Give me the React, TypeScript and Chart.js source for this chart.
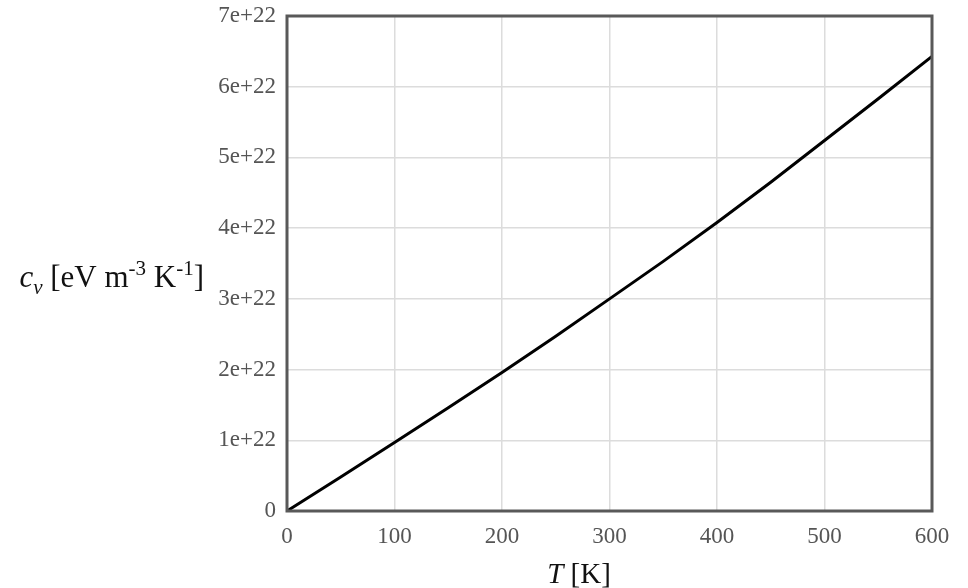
import React, { useEffect, useRef } from "react";
import { Chart, registerables } from "chart.js";

Chart.register(...registerables);

const temperatures = [0, 50, 100, 150, 200, 250, 300, 350, 400, 450, 500, 550, 600];
const heatCapacity = [0, 0.48e22, 0.97e22, 1.46e22, 1.96e22, 2.47e22, 3.0e22, 3.53e22, 4.08e22, 4.65e22, 5.24e22, 5.83e22, 6.43e22];
const xTicks = [0, 100, 200, 300, 400, 500, 600];
const yTicks = [0, 1e22, 2e22, 3e22, 4e22, 5e22, 6e22, 7e22];

const SERIF = '"Liberation Serif", "Times New Roman", serif';

type Run = { text: string; italic?: boolean; kind?: "normal" | "sub" | "sup" };

function drawRuns(ctx: CanvasRenderingContext2D, runs: Run[], x: number, y: number, size: number, align: "left" | "right" | "center") {
  const small = Math.round(size * 0.68);
  const fontFor = (r: Run) => `${r.italic ? "italic " : ""}${r.kind && r.kind !== "normal" ? small : size}px ${SERIF}`;
  let total = 0;
  for (const r of runs) {
    ctx.font = fontFor(r);
    total += ctx.measureText(r.text).width;
  }
  let cx = align === "left" ? x : align === "right" ? x - total : x - total / 2;
  ctx.textBaseline = "alphabetic";
  ctx.textAlign = "left";
  for (const r of runs) {
    ctx.font = fontFor(r);
    let dy = 0;
    if (r.kind === "sub") dy = size * 0.22;
    if (r.kind === "sup") dy = -size * 0.38;
    ctx.fillText(r.text, cx, y + dy);
    cx += ctx.measureText(r.text).width;
  }
}

const yTitleRuns: Run[] = [
  { text: "c", italic: true },
  { text: "v", italic: true, kind: "sub" },
  { text: " [eV m" },
  { text: "-3", kind: "sup" },
  { text: " K" },
  { text: "-1", kind: "sup" },
  { text: "]" },
];
const xTitleRuns: Run[] = [{ text: "T", italic: true }, { text: " [K]" }];

const framePlugin = {
  id: "frameAndTitles",
  afterDatasetsDraw(chart: any) {
    const { ctx, chartArea } = chart;
    ctx.save();
    ctx.strokeStyle = "#595959";
    ctx.lineWidth = 3;
    ctx.strokeRect(chartArea.left, chartArea.top, chartArea.right - chartArea.left, chartArea.bottom - chartArea.top);
    ctx.fillStyle = "#111";
    drawRuns(ctx, yTitleRuns, 204, 287, 31, "right");
    drawRuns(ctx, xTitleRuns, 579, 583, 29, "center");
    ctx.restore();
  },
};

export default function App() {
  const ref = useRef<HTMLCanvasElement | null>(null);
  useEffect(() => {
    if (!ref.current) return;
    const chart = new Chart(ref.current, {
      type: "line",
      data: {
        datasets: [
          {
            data: temperatures.map((t, i) => ({ x: t, y: heatCapacity[i] })),
            borderColor: "#000",
            borderWidth: 3,
            pointRadius: 0,
            tension: 0,
            fill: false,
          },
        ],
      },
      options: {
        animation: false,
        responsive: false,
        maintainAspectRatio: false,
        layout: { padding: { top: 16, right: 36, left: 0, bottom: 0 } },
        plugins: { legend: { display: false }, tooltip: { enabled: false } },
        scales: {
          x: {
            type: "linear",
            min: 0,
            max: 600,
            afterBuildTicks: (s: any) => {
              s.ticks = xTicks.map((v) => ({ value: v }));
            },
            afterFit: (s: any) => {
              s.height = 77;
              s.paddingLeft = 0;
              s.paddingRight = 0;
            },
            grid: { color: "#dcdcdc", lineWidth: 1.5, drawTicks: false },
            border: { display: false },
            ticks: {
              color: "#555",
              font: { family: SERIF, size: 23 },
              padding: 12,
              maxRotation: 0,
              callback: (v: any) => String(v),
            },
          },
          y: {
            type: "linear",
            min: 0,
            max: 7e22,
            afterBuildTicks: (s: any) => {
              s.ticks = yTicks.map((v) => ({ value: v }));
            },
            afterFit: (s: any) => {
              s.width = 287;
              s.paddingTop = 0;
              s.paddingBottom = 0;
            },
            grid: { color: "#dcdcdc", lineWidth: 1.5, drawTicks: false },
            border: { display: false },
            ticks: {
              color: "#555",
              font: { family: SERIF, size: 23 },
              padding: 11,
              callback: (v: any) => {
                const n = Math.round(Number(v) / 1e22);
                return n === 0 ? "0" : `${n}e+22`;
              },
            },
          },
        },
      },
      plugins: [framePlugin],
    } as any);
    return () => chart.destroy();
  }, []);
  return (
    <div style={{ position: "absolute", left: 0, top: 0, width: 968, height: 588, background: "#fff" }}>
      <canvas ref={ref} width={968} height={588} style={{ width: 968, height: 588, display: "block" }} />
    </div>
  );
}
